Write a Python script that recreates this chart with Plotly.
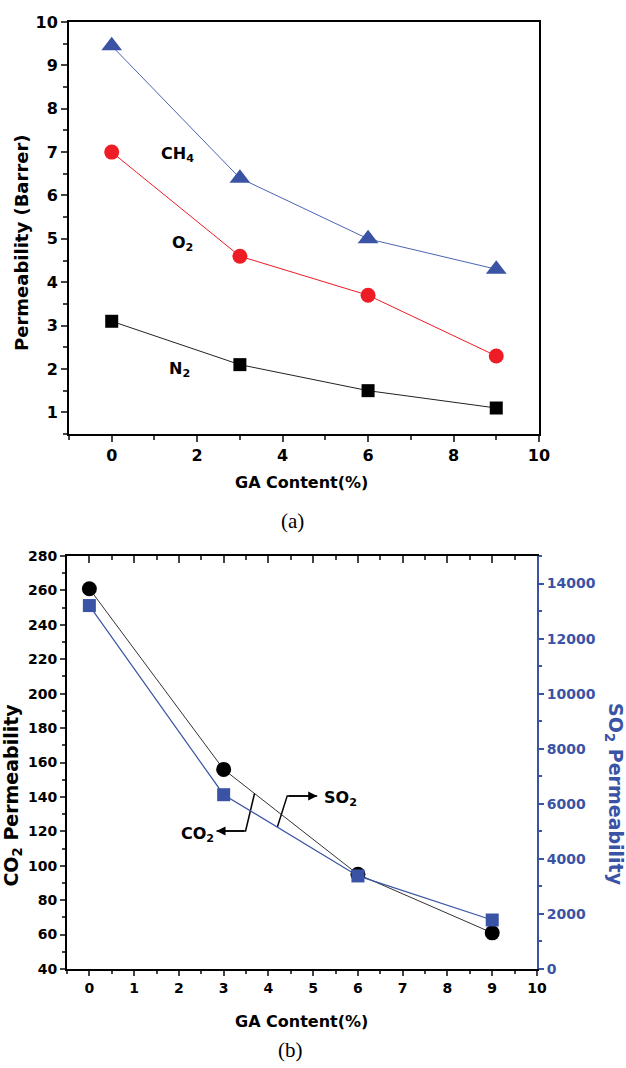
import plotly.graph_objects as go

# ---------------- data ----------------
ga_content = [0, 3, 6, 9]
ch4_perm = [9.45, 6.4, 5.0, 4.3]
o2_perm = [7.0, 4.6, 3.7, 2.3]
n2_perm = [3.1, 2.1, 1.5, 1.1]

co2_perm = [261, 156, 95, 61]
so2_perm = [13200, 6330, 3380, 1780]

# label anchors (data coordinates)
top_labels = ["CH<sub>4</sub>", "O<sub>2</sub>", "N<sub>2</sub>"]
top_label_x = [1.53, 1.65, 1.58]
top_label_y = [6.94, 4.9, 1.98]

# leader polylines for panel (b) (data coords of left axis)
co2_leader_x = [3.69, 3.49]
co2_leader_y = [142.0, 120.2]
co2_arrow_head = [2.84, 120.2]
so2_leader_x = [4.20, 4.42]
so2_leader_y = [122.5, 140.6]
so2_arrow_head = [5.09, 140.6]

BLUE = "#3a53a4"
RED = "#ee1c25"
FONT = "DejaVu Sans"

fig = go.Figure()

# ---------------- panel (a) ----------------
fig.add_trace(go.Scatter(x=ga_content, y=n2_perm, mode="lines+markers",
                         line=dict(color="#222222", width=1),
                         marker=dict(symbol="square", size=13, color="black"),
                         xaxis="x", yaxis="y", showlegend=False))
fig.add_trace(go.Scatter(x=ga_content, y=o2_perm, mode="lines+markers",
                         line=dict(color=RED, width=1),
                         marker=dict(symbol="circle", size=15, color=RED),
                         xaxis="x", yaxis="y", showlegend=False))
fig.add_trace(go.Scatter(x=ga_content, y=ch4_perm, mode="lines+markers",
                         line=dict(color="#4a64b4", width=1),
                         marker=dict(symbol="triangle-up", size=18, color=BLUE),
                         xaxis="x", yaxis="y", showlegend=False))

# ---------------- panel (b) ----------------
fig.add_trace(go.Scatter(x=ga_content, y=co2_perm, mode="lines+markers",
                         line=dict(color="#333333", width=1),
                         marker=dict(symbol="circle", size=15, color="black"),
                         xaxis="x3", yaxis="y3", showlegend=False))
fig.add_trace(go.Scatter(x=co2_leader_x + [co2_arrow_head[0]],
                         y=co2_leader_y + [co2_arrow_head[1]], mode="lines",
                         line=dict(color="black", width=1.5),
                         xaxis="x3", yaxis="y3", showlegend=False, hoverinfo="skip"))
fig.add_trace(go.Scatter(x=so2_leader_x + [so2_arrow_head[0]],
                         y=so2_leader_y + [so2_arrow_head[1]], mode="lines",
                         line=dict(color="black", width=1.5),
                         xaxis="x3", yaxis="y3", showlegend=False, hoverinfo="skip"))
fig.add_trace(go.Scatter(x=ga_content, y=so2_perm, mode="lines+markers",
                         line=dict(color=BLUE, width=1.2),
                         marker=dict(symbol="square", size=13, color=BLUE),
                         xaxis="x3", yaxis="y4", showlegend=False))

tickfont_a = dict(family=FONT, size=16, color="black", weight="bold")
tickfont_b = dict(family=FONT, size=14, color="black", weight="bold")

fig.update_layout(
    width=626, height=1068,
    margin=dict(l=0, r=0, t=0, b=0),
    paper_bgcolor="white", plot_bgcolor="white",
    font=dict(family=FONT, color="black"),
    xaxis=dict(domain=[0.1102, 0.8610], anchor="y", range=[-1, 10], automargin=False,
               tickvals=[0, 2, 4, 6, 8, 10], ticks="outside", ticklen=6, tickwidth=1.5,
               minor=dict(tickvals=[-1, 1, 3, 5, 7, 9], ticks="outside", ticklen=4, tickwidth=1.5),
               showline=True, linewidth=2, linecolor="black", mirror=True,
               showgrid=False, zeroline=False, tickfont=tickfont_a),
    yaxis=dict(domain=[0.5936, 0.9794], anchor="x", range=[0.5, 10], automargin=False,
               dtick=1, tick0=0, ticks="outside", ticklen=6, tickwidth=1.5,
               minor=dict(dtick=0.5, tick0=0.5, ticks="outside", ticklen=4, tickwidth=1.5),
               showline=True, linewidth=2, linecolor="black", mirror=True,
               showgrid=False, zeroline=False, tickfont=tickfont_a),
    xaxis3=dict(domain=[0.1070, 0.8578], anchor="y3", range=[-0.5, 10], automargin=False,
                dtick=1, tick0=0, ticks="outside", ticklen=5, tickwidth=1.5,
                minor=dict(dtick=0.5, tick0=0.5, ticks="outside", ticklen=3, tickwidth=1.5),
                showline=True, linewidth=2, linecolor="black", mirror=True,
                showgrid=False, zeroline=False, tickfont=tickfont_b),
    xaxis5=dict(overlaying="x3", side="top", anchor="y3", range=[-0.5, 10], automargin=False,
                dtick=1, tick0=0, ticks="inside", ticklen=7, tickwidth=1.5,
                minor=dict(dtick=0.5, tick0=0.5, ticks="inside", ticklen=4, tickwidth=1.5),
                showline=False, showticklabels=False, showgrid=False, zeroline=False),
    yaxis3=dict(domain=[0.0927, 0.4794], anchor="x3", range=[40, 280], automargin=False,
                dtick=20, ticks="outside", ticklen=5, tickwidth=1.5,
                minor=dict(dtick=10, ticks="outside", ticklen=3, tickwidth=1.5),
                showline=True, linewidth=2, linecolor="black",
                showgrid=False, zeroline=False, tickfont=tickfont_b),
    yaxis4=dict(overlaying="y3", side="right", anchor="x3", range=[0, 15000], automargin=False,
                dtick=2000, ticks="outside", ticklen=5, tickwidth=1.5, tickcolor=BLUE,
                tickformat="d",
                minor=dict(dtick=1000, ticks="outside", ticklen=3, tickwidth=1.5, tickcolor=BLUE),
                showline=True, linewidth=2, linecolor=BLUE,
                showgrid=False, zeroline=False,
                tickfont=dict(family=FONT, size=14, color=BLUE, weight="bold")),
)

# dummy trace so the top tick axis of panel (b) is drawn
fig.add_trace(go.Scatter(x=[0], y=[40], xaxis="x5", yaxis="y3", mode="markers",
                         marker=dict(opacity=0), showlegend=False, hoverinfo="skip"))

ann = []
for t, x, y in zip(top_labels, top_label_x, top_label_y):
    ann.append(dict(text="<b>" + t + "</b>", x=x, y=y, xref="x", yref="y",
                    xanchor="center", yanchor="middle",
                    showarrow=False, font=dict(family=FONT, size=16, color="black")))

# arrows for panel (b)
ann.append(dict(x=co2_arrow_head[0], y=co2_arrow_head[1], ax=co2_leader_x[-1], ay=co2_leader_y[-1],
                xref="x3", yref="y3", axref="x3", ayref="y3", text="", showarrow=True,
                arrowhead=2, arrowsize=1.2, arrowwidth=1.5, arrowcolor="black"))
ann.append(dict(x=so2_arrow_head[0], y=so2_arrow_head[1], ax=so2_leader_x[-1], ay=so2_leader_y[-1],
                xref="x3", yref="y3", axref="x3", ayref="y3", text="", showarrow=True,
                arrowhead=2, arrowsize=1.2, arrowwidth=1.5, arrowcolor="black"))
ann.append(dict(text="<b>CO<sub>2</sub></b>", x=2.82, y=118, xref="x3", yref="y3",
                xanchor="right", yanchor="middle", showarrow=False,
                font=dict(family=FONT, size=16, color="black")))
ann.append(dict(text="<b>SO<sub>2</sub></b>", x=5.2, y=139, xref="x3", yref="y3",
                xanchor="left", yanchor="middle", showarrow=False,
                font=dict(family=FONT, size=16, color="black")))


def paper_text(text, x, y, size, angle=0, family=FONT, color="black"):
    return dict(text=text, x=x, y=y, xref="paper", yref="paper", xanchor="center",
                yanchor="middle", textangle=angle, showarrow=False,
                font=dict(family=family, size=size, color=color))


# axis titles and panel captions
ann.append(paper_text("<b>Permeability (Barrer)</b>", 0.0335, 0.7734, 18, -90))
ann.append(paper_text("<b>GA Content(%)</b>", 0.4824, 0.5478, 16))
ann.append(paper_text("(a)", 0.4665, 0.5122, 21, family="Liberation Serif"))
ann.append(paper_text("<b>GA Content(%)</b>", 0.4824, 0.0431, 16))
ann.append(paper_text("(b)", 0.4633, 0.0169, 21, family="Liberation Serif"))
ann.append(paper_text("<b>CO<sub>2</sub> Permeability</b>", 0.0185, 0.2556, 19, -90))
ann.append(paper_text("<b>SO<sub>2</sub> Permeability</b>", 0.9824, 0.2556, 19, 90, color=BLUE))

fig.update_layout(annotations=ann)

fig.write_html("out.html")
